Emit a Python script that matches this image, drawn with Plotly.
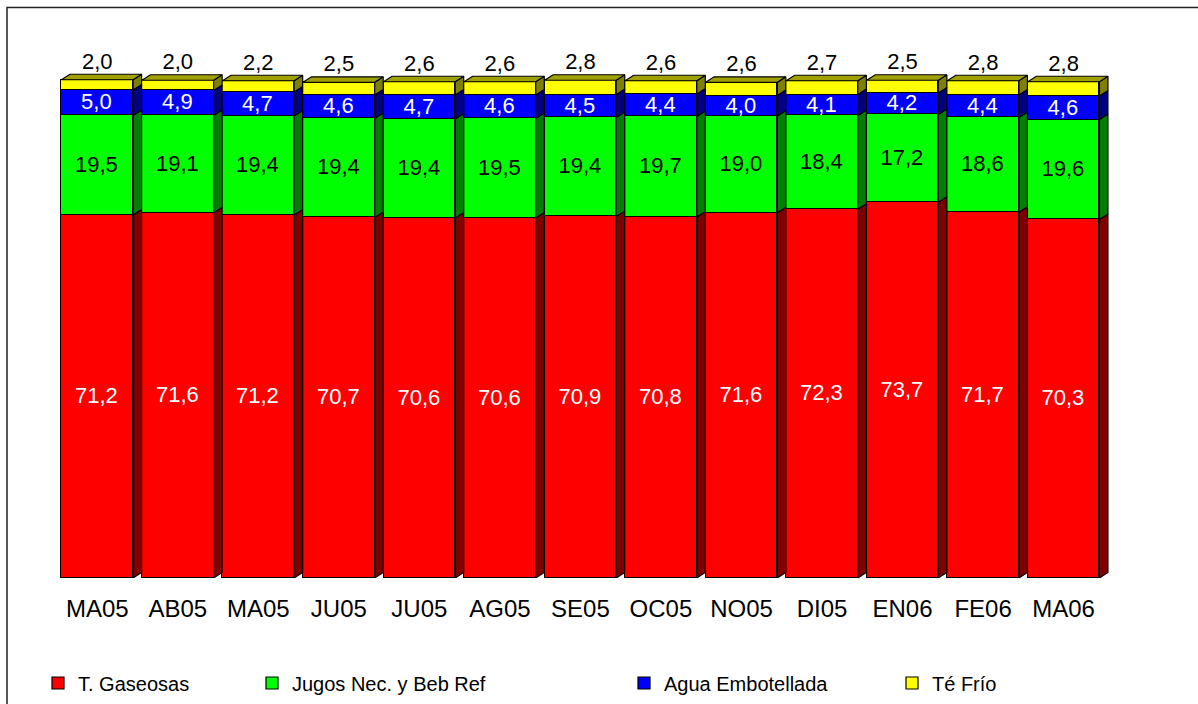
import plotly.graph_objects as go

# Monthly share (%) by beverage category
months = ["MA05", "AB05", "MA05", "JU05", "JU05", "AG05", "SE05",
          "OC05", "NO05", "DI05", "EN06", "FE06", "MA06"]
gaseosas = [71.2, 71.6, 71.2, 70.7, 70.6, 70.6, 70.9, 70.8, 71.6, 72.3, 73.7, 71.7, 70.3]
jugos = [19.5, 19.1, 19.4, 19.4, 19.4, 19.5, 19.4, 19.7, 19.0, 18.4, 17.2, 18.6, 19.6]
agua = [5.0, 4.9, 4.7, 4.6, 4.7, 4.6, 4.5, 4.4, 4.0, 4.1, 4.2, 4.4, 4.6]
te_frio = [2.0, 2.0, 2.2, 2.5, 2.6, 2.6, 2.8, 2.6, 2.6, 2.7, 2.5, 2.8, 2.8]

series = [
    ("T. Gaseosas", gaseosas, "#FF0000", "#800000", "white"),
    ("Jugos Nec. y Beb Ref", jugos, "#00FF00", "#008000", "black"),
    ("Agua Embotellada", agua, "#0000FF", "#000080", "white"),
    ("Té Frío", te_frio, "#FFFF00", "#808000", "black"),
]

W, H = 1198, 704
ML, MR, MT, MB = 57, 74, 68, 126
X_RANGE = [-0.5, 12.75]
Y_RANGE = [0, 100]
plot_w = W - ML - MR
plot_h = H - MT - MB
px_x = plot_w / (X_RANGE[1] - X_RANGE[0])
px_y = plot_h / (Y_RANGE[1] - Y_RANGE[0])

BAR_W = 0.89
DX = 8.5 / px_x    # depth of the 3D extrusion, in axis units
DY = 5.5 / px_y
FONT = "Liberation Sans, Arial, sans-serif"

xs = list(range(len(months)))
fig = go.Figure()

legend_names = ["legend", "legend2", "legend3", "legend4"]
base = [0.0] * len(months)
for k, (name, vals, face, side, tcol) in enumerate(series):
    is_top = k == len(series) - 1
    fig.add_trace(go.Bar(
        x=xs, y=vals, name=name, width=BAR_W,
        marker=dict(color=face, line=dict(color="black", width=1.2)),
        texttemplate=None if is_top else "%{y:.1f}",
        textposition="none" if is_top else "inside",
        insidetextanchor="middle", textangle=0, constraintext="none",
        textfont=dict(family=FONT, size=22, color=tcol),
        legend=legend_names[k], hoverinfo="skip",
    ))
    # side faces of each segment
    for i, v in enumerate(vals):
        xr = i + BAR_W / 2
        y0, y1 = base[i], base[i] + v
        fig.add_trace(go.Scatter(
            x=[xr, xr + DX, xr + DX, xr, xr],
            y=[y0, y0 + DY, y1 + DY, y1, y0],
            mode="lines", fill="toself", fillcolor=side,
            line=dict(color="black", width=1.2),
            showlegend=False, hoverinfo="skip",
        ))
        if is_top:
            xl = i - BAR_W / 2
            fig.add_trace(go.Scatter(
                x=[xl, xl + DX, xr + DX, xr, xl],
                y=[y1, y1 + DY, y1 + DY, y1, y1],
                mode="lines", fill="toself", fillcolor="#A0A000",
                line=dict(color="black", width=1.2),
                showlegend=False, hoverinfo="skip",
            ))
    base = [b + v for b, v in zip(base, vals)]

# value labels above the stacks for the top series
fig.add_trace(go.Scatter(
    x=xs, y=[b + DY for b in base], mode="text",
    text=[f"{v:.1f}".replace(".", ",") for v in te_frio],
    textposition="top center",
    textfont=dict(family=FONT, size=22, color="black"),
    showlegend=False, hoverinfo="skip", cliponaxis=False,
))

# chart frame
fx0 = (7 - ML) / plot_w
fx1 = (W + 20 - ML) / plot_w
fy1 = (H - MB - 7.5) / plot_h
fy0 = (H - MB - (H + 20)) / plot_h

# legend entries laid out in four columns along the bottom
legend_left = [38, 252, 624, 892]
legends = {}
for name, lx in zip(legend_names, legend_left):
    legends[name] = dict(
        xref="container", yref="container",
        x=lx / W, xanchor="left", y=(H - 683) / H, yanchor="middle",
        orientation="h", bgcolor="rgba(0,0,0,0)",
        font=dict(family=FONT, size=20, color="black"),
    )

fig.update_layout(
    width=W, height=H,
    margin=dict(l=ML, r=MR, t=MT, b=MB, pad=0, autoexpand=False),
    barmode="stack", bargap=0,
    separators=",.",
    paper_bgcolor="white", plot_bgcolor="white",
    xaxis=dict(range=X_RANGE, tickmode="array", tickvals=xs, ticktext=months,
               showgrid=False, zeroline=False, showline=False, ticks="",
               ticklabelstandoff=14, automargin=False,
               tickfont=dict(family=FONT, size=24, color="black")),
    yaxis=dict(range=Y_RANGE, visible=False, showgrid=False, zeroline=False),
    shapes=[dict(type="rect", xref="paper", yref="paper",
                 x0=fx0, x1=fx1, y0=fy0, y1=fy1,
                 line=dict(color="#222222", width=1.5), layer="above")],
    **legends,
)

fig.write_html("out.html")
